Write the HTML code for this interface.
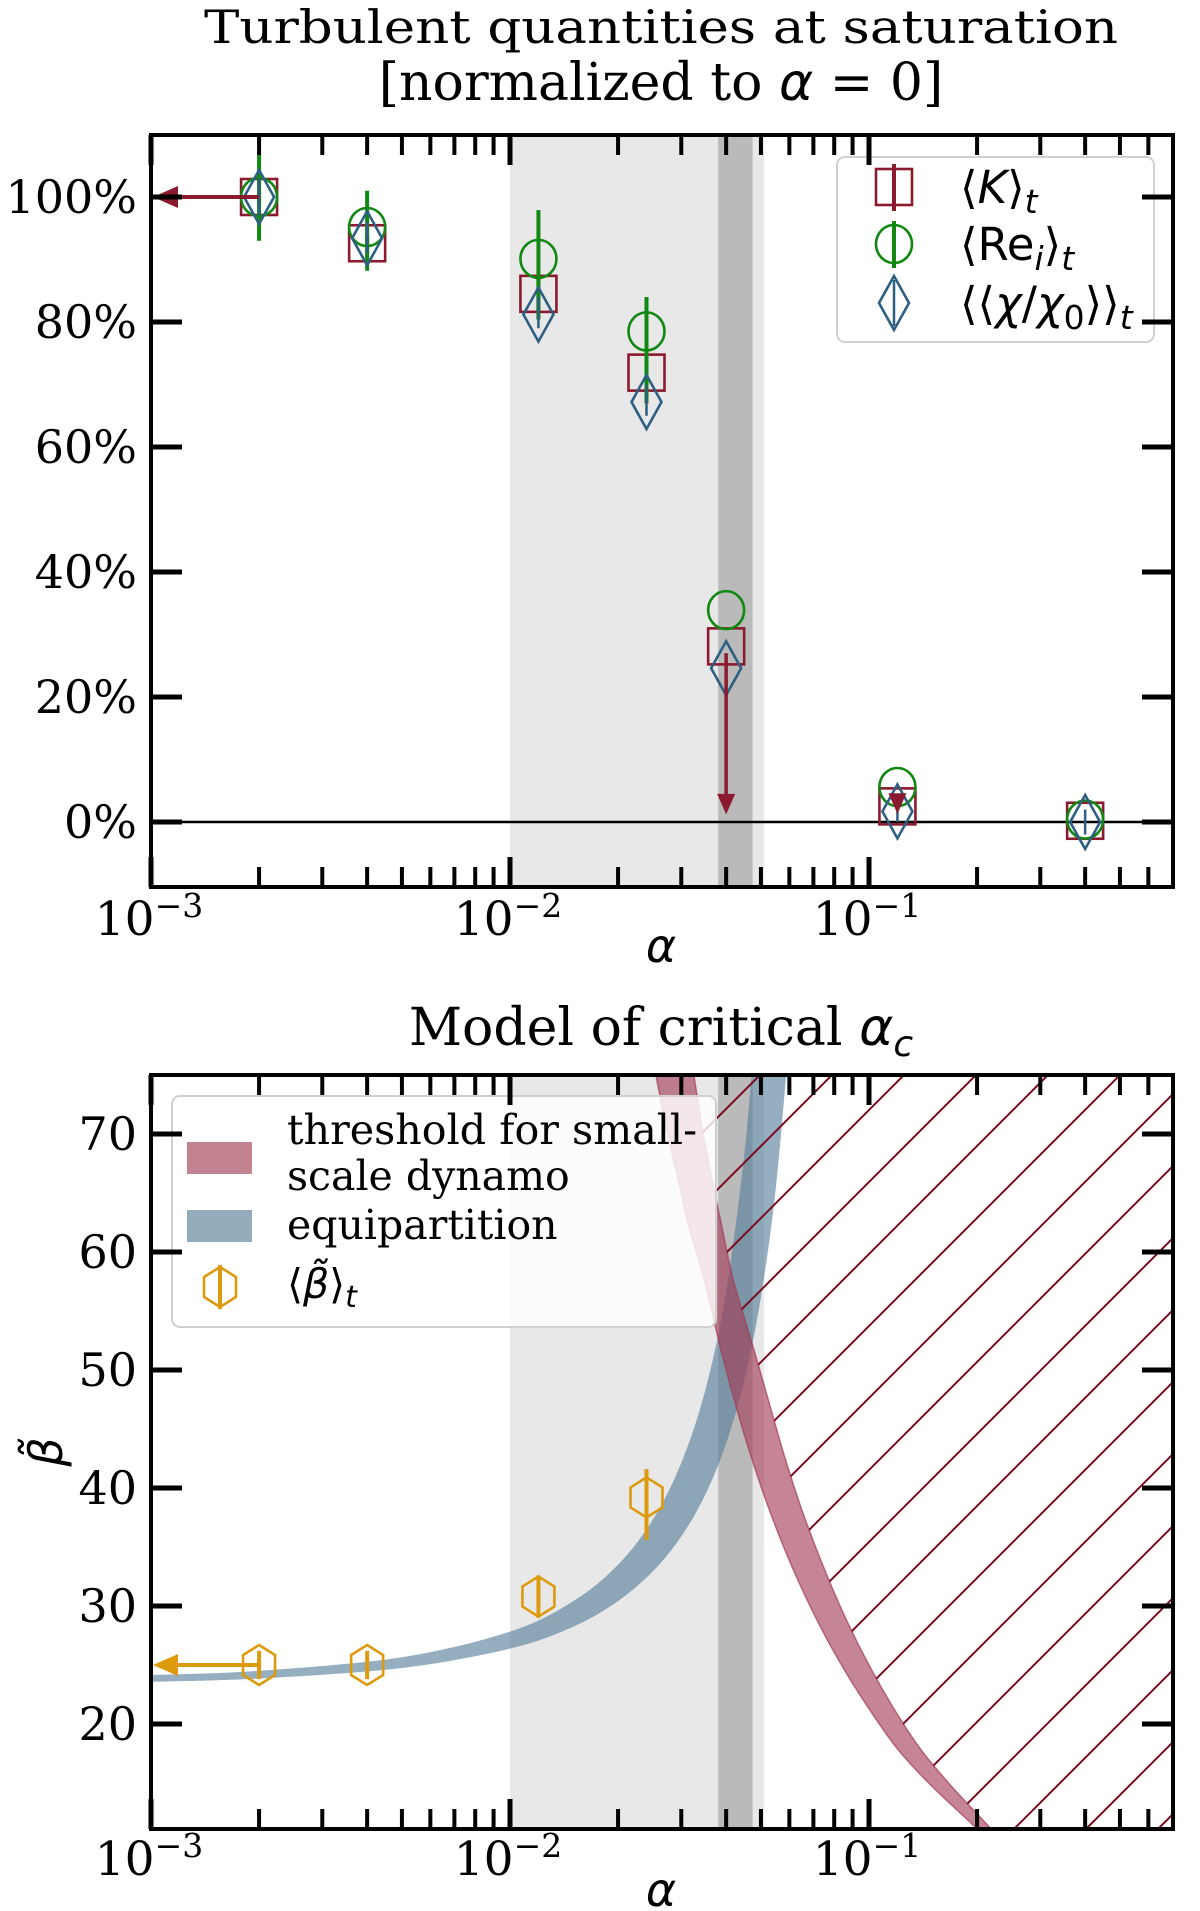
<!DOCTYPE html>
<html><head><meta charset="utf-8"><style>
html,body{margin:0;padding:0;background:#fff;}
svg{display:block;}
text{font-family:"DejaVu Serif","Liberation Serif",serif;fill:#000;}
.sans{font-family:"DejaVu Sans","Liberation Sans",sans-serif;}
</style></head><body>
<svg id="fig" width="1200" height="1911" viewBox="0 0 1200 1911" xmlns="http://www.w3.org/2000/svg">
<defs>
<clipPath id="clipTop"><rect x="151" y="135" width="1022" height="752"/></clipPath>
<clipPath id="clipBot"><rect x="151" y="1075" width="1022" height="754"/></clipPath>
<clipPath id="clipHatch"><path id="hatchClipPath" d=""/></clipPath>
</defs>
<text x="661" y="43" font-size="46" text-anchor="middle" textLength="914" lengthAdjust="spacingAndGlyphs">Turbulent quantities at saturation</text>
<text x="661" y="100" font-size="52" text-anchor="middle">[normalized to <tspan class="sans" font-style="italic">α</tspan> = 0]</text>
<text x="661" y="1045" font-size="52" text-anchor="middle">Model of critical <tspan class="sans" font-style="italic">α</tspan><tspan class="sans" font-style="italic" font-size="36" dy="11">c</tspan></text>
<g id="top"></g>
<g id="bot"></g>
</svg>
<script>
// ---------- data: top chart ----------
const alphaTop = [0.002, 0.004, 0.012, 0.024, 0.04, 0.12, 0.4];
const kineticVals = [100, 92.6, 84.5, 71.9, 28.1, 2.5, 0.2];
const kineticLo = [99, 91, 81.5, 67, 28.1, 2.5, 0.2];
const kineticHi = [101, 94, 87, 74, 28.1, 2.5, 0.2];
const reynoldsVals = [100, 95.2, 90.1, 78.5, 33.9, 5.6, 0.4];
const reynoldsLo = [93.0, 88.2, 80.4, 67.2, 33.9, 5.6, 0.4];
const reynoldsHi = [107.2, 101.0, 97.9, 84.0, 33.9, 5.6, 0.4];
const chiVals = [100, 93.4, 81.2, 67.2, 24.6, 1.7, 0.0];
const chiLo = [97, 91, 79, 65, 22, 0, -2];
const chiHi = [103, 96, 84, 70, 27, 4, 2];
const topTickVals = [0, 20, 40, 60, 80, 100];
const topTickLabels = ["0%", "20%", "40%", "60%", "80%", "100%"];
// ---------- data: bottom chart ----------
const alphaBeta = [0.002, 0.004, 0.012, 0.024];
const betaVals = [25.0, 25.0, 30.8, 39.2];
const betaLo = [23.8, 23.8, 29.0, 35.6];
const betaHi = [26.2, 26.2, 32.6, 41.6];
const equiAlpha = [0.001, 0.002, 0.005, 0.01, 0.015, 0.02, 0.025, 0.03, 0.035, 0.04, 0.045, 0.048];
const equiUpper = [24.15, 24.51, 25.66, 27.83, 30.41, 33.51, 37.33, 42.13, 48.30, 56.63, 68.48, 78.2];
const equiAlpha2 = [0.001, 0.002, 0.005, 0.01, 0.015, 0.02, 0.025, 0.03, 0.035, 0.04, 0.045, 0.05, 0.055, 0.06];
const equiLower = [23.58, 23.86, 24.75, 26.39, 28.25, 30.42, 32.94, 35.90, 39.44, 43.78, 49.18, 56.16, 65.40, 78.2];
const threshBeta = [78, 75, 70, 65, 62, 57.6, 52.1, 47.4, 42.8, 38.2, 33.7, 29.5, 25.5, 21.6, 17.9, 14.7, 11.5, 9.5];
const threshRight = [0.0312, 0.0325, 0.0345, 0.0372, 0.039, 0.0419, 0.0474, 0.0525, 0.058, 0.0649, 0.0738, 0.0845, 0.098, 0.1157, 0.139, 0.170, 0.213, 0.245];
const threshLeft = [0.0245, 0.0255, 0.0275, 0.0300, 0.0316, 0.0348, 0.0384, 0.0422, 0.0468, 0.0527, 0.0603, 0.0698, 0.0820, 0.0985, 0.1200, 0.150, 0.194, 0.226];
const botTickVals = [20, 30, 40, 50, 60, 70];
const spanLight = [0.01, 0.051];
const spanDark = [0.038, 0.0474];

const NS = "http://www.w3.org/2000/svg";
const X = a => 151 + (Math.log10(a) + 3) * 359;
const YT = p => 822 - p * 6.25;
const YB = b => 1134 + (70 - b) * 11.8;
const RED = "#8b1a2e", GREEN = "#118811", BLUE = "#2c5f82", GOLD = "#dc9a0c";

function mk(parent, tag, attrs) {
  const e = document.createElementNS(NS, tag);
  for (const k in attrs) e.setAttribute(k, attrs[k]);
  parent.appendChild(e);
  return e;
}
function smooth(pts) {
  let d = "M" + pts[0][0].toFixed(1) + "," + pts[0][1].toFixed(1);
  for (let i = 0; i < pts.length - 1; i++) {
    const p0 = pts[Math.max(i - 1, 0)], p1 = pts[i], p2 = pts[i + 1], p3 = pts[Math.min(i + 2, pts.length - 1)];
    const c1 = [p1[0] + (p2[0] - p0[0]) / 6, p1[1] + (p2[1] - p0[1]) / 6];
    const c2 = [p2[0] - (p3[0] - p1[0]) / 6, p2[1] - (p3[1] - p1[1]) / 6];
    d += "C" + c1.map(v => v.toFixed(1)).join(",") + " " + c2.map(v => v.toFixed(1)).join(",") + " " + p2[0].toFixed(1) + "," + p2[1].toFixed(1);
  }
  return d;
}
function smoothCont(pts) { return smooth(pts).replace(/^M/, "L"); }

function spans(g, top, bot) {
  let r = mk(g, "rect", {x: X(spanLight[0]), y: top, width: X(spanLight[1]) - X(spanLight[0]), height: bot - top, fill: "#e8e8e8"});
  
  
  r = mk(g, "rect", {x: X(spanDark[0]), y: top, width: X(spanDark[1]) - X(spanDark[0]), height: bot - top, fill: "#bababa"});
  
  
}

function axes(g, top, bot, yTicks, yLabels, yFn, xLabelY, axisLabelY) {
  for (let dec = -3; dec <= -1; dec++) {
    for (let m = 1; m <= 9; m++) {
      const a = m * Math.pow(10, dec);
      const x = X(a);
      if (x > 1172) continue;
      const len = m === 1 ? 30 : 20, w = m === 1 ? 5 : 4;
      let t = mk(g, "line", {x1: x, x2: x, y1: bot, y2: bot - len, stroke: "#000", "stroke-width": w});
      
      
      t = mk(g, "line", {x1: x, x2: x, y1: top, y2: top + len, stroke: "#000", "stroke-width": w});
      
      
      if (m === 1) {
        const tx = mk(g, "text", {x: x - 2, y: xLabelY, "font-size": 47, "text-anchor": "middle"});
        
        
        const a1 = document.createElementNS(NS, "tspan"); a1.textContent = "10"; tx.appendChild(a1);
        const a2 = document.createElementNS(NS, "tspan"); a2.setAttribute("dy", "-18"); a2.setAttribute("font-size", "33"); a2.textContent = "\u2212" + (-dec); tx.appendChild(a2);
      }
    }
  }
  yTicks.forEach((v, i) => {
    const y = yFn(v);
    let t = mk(g, "line", {x1: 151, x2: 182, y1: y, y2: y, stroke: "#000", "stroke-width": 5});
    
    
    t = mk(g, "line", {x1: 1173, x2: 1142, y1: y, y2: y, stroke: "#000", "stroke-width": 5});
    
    
    const tx = mk(g, "text", {x: 137, y: y + 16, "font-size": 46, "text-anchor": "end"});
    tx.textContent = yLabels[i];
    
    
  });
  const fr = mk(g, "rect", {x: 151, y: top, width: 1022, height: bot - top, fill: "none", stroke: "#000", "stroke-width": 4});
  
  
  const al = mk(g, "text", {x: 661, y: axisLabelY, "font-size": 46, "text-anchor": "middle", "class": "sans", "font-style": "italic"});
  al.textContent = "α";
  
  
}

function errbar(g, x, y1, y2, col, w) {
  const l = mk(g, "line", {x1: x, x2: x, y1: y1, y2: y2, stroke: col, "stroke-width": w});
  
  
}
function square(g, x, y, col) {
  const e = mk(g, "rect", {x: x - 18, y: y - 18, width: 36, height: 36, fill: "none", stroke: col, "stroke-width": 2.6});
  
  
}
function circle(g, x, y, col) {
  const e = mk(g, "ellipse", {cx: x, cy: y, rx: 18, ry: 19, fill: "none", stroke: col, "stroke-width": 2.6});
  
  
}
function diamond(g, x, y, col) {
  const e = mk(g, "polygon", {points: `${x},${y - 27} ${x + 15},${y} ${x},${y + 27} ${x - 15},${y}`, fill: "none", stroke: col, "stroke-width": 2.6});
  
  
}
function hexagon(g, x, y, col) {
  const e = mk(g, "polygon", {points: `${x},${y - 20} ${x + 16},${y - 10} ${x + 16},${y + 10} ${x},${y + 20} ${x - 16},${y + 10} ${x - 16},${y - 10}`, fill: "none", stroke: col, "stroke-width": 2.6});
  
  
}

// ================= TOP =================
const gt = document.getElementById("top");
const gtc = mk(gt, "g", {"clip-path": "url(#clipTop)"});
spans(gtc, 135, 887);
let zl = mk(gtc, "line", {x1: 151, x2: 1173, y1: YT(0), y2: YT(0), stroke: "#000", "stroke-width": 2.5});


alphaTop.forEach((a, i) => {
  const x = X(a);
  errbar(gtc, x, YT(kineticLo[i]), YT(kineticHi[i]), RED, 4);
  square(gtc, x, YT(kineticVals[i]), RED);
  errbar(gtc, x, YT(reynoldsLo[i]), YT(reynoldsHi[i]), GREEN, 4);
  circle(gtc, x, YT(reynoldsVals[i]), GREEN);
  errbar(gtc, x, YT(chiLo[i]), YT(chiHi[i]), BLUE, 2.5);
  diamond(gtc, x, YT(chiVals[i]), BLUE);
});
(function () {
  const x4 = X(alphaTop[4]);
  const l = mk(gtc, "line", {x1: x4, x2: x4, y1: YT(27), y2: YT(4), stroke: RED, "stroke-width": 3.5});
  
  
  const h = mk(gtc, "polygon", {points: `${x4 - 9},${YT(4.5)} ${x4 + 9},${YT(4.5)} ${x4},${YT(1.2)}`, fill: RED});
  
  
  const x5 = X(alphaTop[5]);
  const h2 = mk(gtc, "polygon", {points: `${x5 - 9},${YT(4.6)} ${x5 + 9},${YT(4.6)} ${x5},${YT(1.3)}`, fill: RED});
  
  
  const y = YT(kineticVals[0]);
  const la = mk(gtc, "line", {x1: X(alphaTop[0]), x2: 170, y1: y, y2: y, stroke: RED, "stroke-width": 4});
  
  
  const lh = mk(gtc, "polygon", {points: `${178},${y - 11} ${178},${y + 11} ${153},${y}`, fill: RED});
  
  
})();
(function () {
  const lg = mk(gt, "g", {});
  
  
  mk(lg, "rect", {x: 837, y: 157, width: 317, height: 185, rx: 8, fill: "#fff", "fill-opacity": 0.85, stroke: "#d0d0d0", "stroke-width": 2});
  errbar(lg, 894, 164, 211, RED, 4); square(lg, 894, 187, RED);
  errbar(lg, 894, 221, 268, GREEN, 4); circle(lg, 894, 244, GREEN);
  errbar(lg, 894, 280, 326, BLUE, 2.5); diamond(lg, 894, 303, BLUE);
  let t = mk(lg, "text", {x: 960, y: 203, "font-size": 45, "class": "sans"});
  t.innerHTML = '⟨<tspan font-style="italic">K</tspan>⟩<tspan font-style="italic" font-size="33" dy="10">t</tspan>';
  
  
  t = mk(lg, "text", {x: 960, y: 260, "font-size": 45, "class": "sans"});
  t.innerHTML = '⟨Re<tspan font-style="italic" font-size="33" dy="10">i</tspan><tspan dy="-10">⟩</tspan><tspan font-style="italic" font-size="33" dy="10">t</tspan>';
  
  
  t = mk(lg, "text", {x: 960, y: 319, "font-size": 45, "class": "sans"});
  t.innerHTML = '⟨⟨<tspan font-style="italic">χ</tspan>/<tspan font-style="italic">χ</tspan><tspan font-size="33" dy="10">0</tspan><tspan dy="-10">⟩⟩</tspan><tspan font-style="italic" font-size="33" dy="10">t</tspan>';
  
  
})();
axes(gt, 135, 887, topTickVals, topTickLabels, YT, 935, 962);

// ================= BOTTOM =================
const gb = document.getElementById("bot");
const gbc = mk(gb, "g", {"clip-path": "url(#clipBot)"});
spans(gbc, 1075, 1829);
(function () {
  const up = equiAlpha.map((a, i) => [X(a), YB(equiUpper[i])]);
  const lo = equiAlpha2.map((a, i) => [X(a), YB(equiLower[i])]).reverse();
  const d = smooth(up) + smoothCont(lo) + "Z";
  const p = mk(gbc, "path", {d: d, fill: "#547e9a", "fill-opacity": 0.62});
  
  
})();
(function () {
  const left = threshBeta.map((b, i) => [X(threshLeft[i]), YB(b)]);
  const right = threshBeta.map((b, i) => [X(threshRight[i]), YB(b)]);
  const d = smooth(left) + smoothCont(right.slice().reverse()) + "Z";
  const p = mk(gbc, "path", {d: d, fill: "#a33a55", "fill-opacity": 0.62, stroke: "#a33a55", "stroke-opacity": 0.7, "stroke-width": 1.5});
  
  
  const hd = smooth(right) + "L1300,2000L1300,900Z";
  document.getElementById("hatchClipPath").setAttribute("d", hd);
  const hg = mk(gbc, "g", {"clip-path": "url(#clipHatch)"});
  
  
  for (let k = -20; k < 40; k++) {
    const x0 = 150 + k * 72;
    const l = mk(hg, "line", {x1: x0, y1: 1829, x2: x0 + 800, y2: 1029, stroke: "#7a0a1e", "stroke-width": 2});
    
    
  }
})();
alphaBeta.forEach((a, i) => {
  const x = X(a);
  errbar(gbc, x, YB(betaLo[i]), YB(betaHi[i]), GOLD, 4);
  hexagon(gbc, x, YB(betaVals[i]), GOLD);
});
(function () {
  const y = YB(betaVals[0]);
  const la = mk(gbc, "line", {x1: X(alphaBeta[0]), x2: 170, y1: y, y2: y, stroke: GOLD, "stroke-width": 4});
  
  
  const lh = mk(gbc, "polygon", {points: `178,${y - 11} 178,${y + 11} 153,${y}`, fill: GOLD});
  
  
})();
(function () {
  const lg = mk(gb, "g", {});
  
  
  mk(lg, "rect", {x: 172, y: 1096, width: 544, height: 231, rx: 8, fill: "#fff", "fill-opacity": 0.82, stroke: "#d0d0d0", "stroke-width": 2});
  let r = mk(lg, "rect", {x: 187, y: 1142, width: 65, height: 32, fill: "#c3828f"});
  
  
  r = mk(lg, "rect", {x: 187, y: 1210, width: 65, height: 32, fill: "#94acbb"});
  
  
  errbar(lg, 220, 1265, 1309, GOLD, 4);
  hexagon(lg, 220, 1287, GOLD);
  let t = mk(lg, "text", {x: 287, y: 1144, "font-size": 41, textLength: 410, lengthAdjust: "spacingAndGlyphs"});
  t.textContent = "threshold for small-";
  
  
  t = mk(lg, "text", {x: 287, y: 1190, "font-size": 41});
  t.textContent = "scale dynamo";
  
  
  t = mk(lg, "text", {x: 287, y: 1239, "font-size": 41});
  t.textContent = "equipartition";
  
  
  t = mk(lg, "text", {x: 287, y: 1298, "font-size": 41, "class": "sans"});
  t.innerHTML = '⟨<tspan font-style="italic">β̃</tspan>⟩<tspan font-style="italic" font-size="30" dy="9">t</tspan>';
  
  
})();
axes(gb, 1075, 1829, botTickVals, botTickVals.map(String), YB, 1875, 1906);
(function () {
  const t = mk(gb, "text", {x: 0, y: 0, "font-size": 46, "class": "sans", "font-style": "italic", "text-anchor": "middle", transform: "translate(62,1452) rotate(-90)"});
  t.textContent = "β̃";
  
  
})();
</script>
</body></html>
